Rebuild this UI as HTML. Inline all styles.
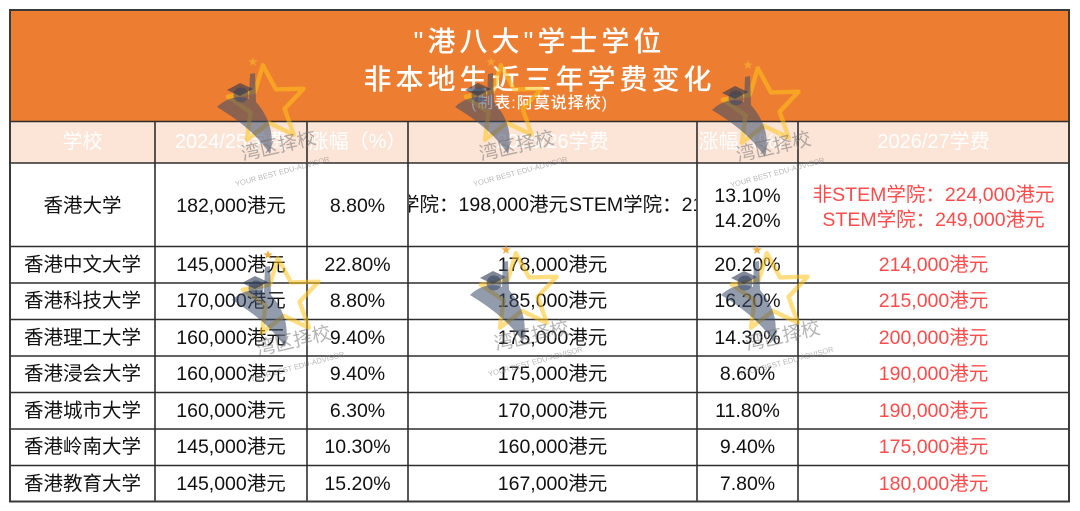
<!DOCTYPE html>
<html><head><meta charset="utf-8">
<style>
html,body{margin:0;padding:0;background:#fff;}
body{width:1080px;height:511px;position:relative;overflow:hidden;font-family:"Liberation Sans","Noto Sans CJK SC",sans-serif;}
.c{position:absolute;display:flex;align-items:center;justify-content:center;white-space:nowrap;font-size:19.5px;color:#111;line-height:24px;}
.h{color:#fff;font-size:20px;}
.r{color:#ff4b4b;}
.t{position:absolute;left:10px;width:1059px;text-align:center;color:#fff;white-space:nowrap;font-family:"Liberation Sans","Noto Sans CJK SC",sans-serif;font-weight:500;}
</style></head><body>
<svg width="1080" height="511" style="position:absolute;left:0;top:0">
<rect x="10" y="10" width="1059" height="111.5" fill="#ED7D31"/>
<rect x="10" y="121.5" width="1059" height="41.5" fill="#FCE4D6"/>
<g stroke="#2e2e2e" stroke-width="1.6" fill="none">
<line x1="10" y1="121.5" x2="1069" y2="121.5"/>
<line x1="10" y1="163" x2="1069" y2="163"/>
<line x1="10" y1="246.5" x2="1069" y2="246.5"/>
<line x1="10" y1="283" x2="1069" y2="283"/>
<line x1="10" y1="319.5" x2="1069" y2="319.5"/>
<line x1="10" y1="356" x2="1069" y2="356"/>
<line x1="10" y1="392.5" x2="1069" y2="392.5"/>
<line x1="10" y1="429" x2="1069" y2="429"/>
<line x1="10" y1="465.5" x2="1069" y2="465.5"/>
<line x1="155" y1="121.5" x2="155" y2="501.5"/>
<line x1="307" y1="121.5" x2="307" y2="501.5"/>
<line x1="408" y1="121.5" x2="408" y2="501.5"/>
<line x1="697" y1="121.5" x2="697" y2="501.5"/>
<line x1="798" y1="121.5" x2="798" y2="501.5"/>
</g>
<rect x="10" y="10" width="1059" height="491.5" fill="none" stroke="#3a3a3a" stroke-width="2"/>
</svg>

<div class="t" style="top:23.5px;height:36px;line-height:36px;font-size:28px;letter-spacing:4px;">"港八大"学士学位</div>
<div class="t" style="top:61.5px;height:36px;line-height:36px;font-size:28px;letter-spacing:4px;">非本地生近三年学费变化</div>
<div class="t" style="top:92.5px;height:22px;line-height:22px;font-size:16px;letter-spacing:1px;">(制表:阿莫说择校)</div>

<!-- column headers -->
<div class="c h" style="left:10px;top:121.5px;width:145px;height:41.5px;">学校</div>
<div class="c h" style="left:155px;top:121.5px;width:152px;height:41.5px;">2024/25学费</div>
<div class="c h" style="left:307px;top:121.5px;width:101px;height:41.5px;">涨幅（%）</div>
<div class="c h" style="left:408px;top:121.5px;width:289px;height:41.5px;">2025/26学费</div>
<div class="c h" style="left:697px;top:121.5px;width:101px;height:41.5px;">涨幅（%）</div>
<div class="c h" style="left:798px;top:121.5px;width:271px;height:41.5px;">2026/27学费</div>

<!-- row 1 -->
<div class="c" style="left:10px;top:163px;width:145px;height:85px;">香港大学</div>
<div class="c" style="left:155px;top:163px;width:152px;height:85px;">182,000港元</div>
<div class="c" style="left:307px;top:163px;width:101px;height:85px;">8.80%</div>
<div style="position:absolute;left:409px;top:164px;width:287px;height:82px;overflow:hidden;font-size:19.5px;color:#111;white-space:nowrap;">
<span style="position:absolute;right:128px;top:29px;line-height:24px;">非STEM学院：198,000港元</span>
<span style="position:absolute;left:160px;top:29px;line-height:24px;">STEM学院：218,000港元</span>
</div>
<div class="c" style="left:697px;top:184px;width:101px;height:50px;line-height:25px;flex-direction:column;"><div>13.10%</div><div>14.20%</div></div>
<div class="c r" style="left:798px;top:183px;width:271px;height:50px;line-height:25px;flex-direction:column;"><div>非STEM学院：224,000港元</div><div>STEM学院：249,000港元</div></div>

<!-- row 2 -->
<div class="c" style="left:10px;top:246.5px;width:145px;height:36.5px;">香港中文大学</div>
<div class="c" style="left:155px;top:246.5px;width:152px;height:36.5px;">145,000港元</div>
<div class="c" style="left:307px;top:246.5px;width:101px;height:36.5px;">22.80%</div>
<div class="c" style="left:408px;top:246.5px;width:289px;height:36.5px;">178,000港元</div>
<div class="c" style="left:697px;top:246.5px;width:101px;height:36.5px;">20.20%</div>
<div class="c r" style="left:798px;top:246.5px;width:271px;height:36.5px;">214,000港元</div>

<!-- row 3 -->
<div class="c" style="left:10px;top:283px;width:145px;height:36.5px;">香港科技大学</div>
<div class="c" style="left:155px;top:283px;width:152px;height:36.5px;">170,000港元</div>
<div class="c" style="left:307px;top:283px;width:101px;height:36.5px;">8.80%</div>
<div class="c" style="left:408px;top:283px;width:289px;height:36.5px;">185,000港元</div>
<div class="c" style="left:697px;top:283px;width:101px;height:36.5px;">16.20%</div>
<div class="c r" style="left:798px;top:283px;width:271px;height:36.5px;">215,000港元</div>

<!-- row 4 -->
<div class="c" style="left:10px;top:319.5px;width:145px;height:36.5px;">香港理工大学</div>
<div class="c" style="left:155px;top:319.5px;width:152px;height:36.5px;">160,000港元</div>
<div class="c" style="left:307px;top:319.5px;width:101px;height:36.5px;">9.40%</div>
<div class="c" style="left:408px;top:319.5px;width:289px;height:36.5px;">175,000港元</div>
<div class="c" style="left:697px;top:319.5px;width:101px;height:36.5px;">14.30%</div>
<div class="c r" style="left:798px;top:319.5px;width:271px;height:36.5px;">200,000港元</div>

<!-- row 5 -->
<div class="c" style="left:10px;top:356px;width:145px;height:36.5px;">香港浸会大学</div>
<div class="c" style="left:155px;top:356px;width:152px;height:36.5px;">160,000港元</div>
<div class="c" style="left:307px;top:356px;width:101px;height:36.5px;">9.40%</div>
<div class="c" style="left:408px;top:356px;width:289px;height:36.5px;">175,000港元</div>
<div class="c" style="left:697px;top:356px;width:101px;height:36.5px;">8.60%</div>
<div class="c r" style="left:798px;top:356px;width:271px;height:36.5px;">190,000港元</div>

<!-- row 6 -->
<div class="c" style="left:10px;top:392.5px;width:145px;height:36.5px;">香港城市大学</div>
<div class="c" style="left:155px;top:392.5px;width:152px;height:36.5px;">160,000港元</div>
<div class="c" style="left:307px;top:392.5px;width:101px;height:36.5px;">6.30%</div>
<div class="c" style="left:408px;top:392.5px;width:289px;height:36.5px;">170,000港元</div>
<div class="c" style="left:697px;top:392.5px;width:101px;height:36.5px;">11.80%</div>
<div class="c r" style="left:798px;top:392.5px;width:271px;height:36.5px;">190,000港元</div>

<!-- row 7 -->
<div class="c" style="left:10px;top:429px;width:145px;height:36.5px;">香港岭南大学</div>
<div class="c" style="left:155px;top:429px;width:152px;height:36.5px;">145,000港元</div>
<div class="c" style="left:307px;top:429px;width:101px;height:36.5px;">10.30%</div>
<div class="c" style="left:408px;top:429px;width:289px;height:36.5px;">160,000港元</div>
<div class="c" style="left:697px;top:429px;width:101px;height:36.5px;">9.40%</div>
<div class="c r" style="left:798px;top:429px;width:271px;height:36.5px;">175,000港元</div>

<!-- row 8 -->
<div class="c" style="left:10px;top:465.5px;width:145px;height:36px;">香港教育大学</div>
<div class="c" style="left:155px;top:465.5px;width:152px;height:36px;">145,000港元</div>
<div class="c" style="left:307px;top:465.5px;width:101px;height:36px;">15.20%</div>
<div class="c" style="left:408px;top:465.5px;width:289px;height:36px;">167,000港元</div>
<div class="c" style="left:697px;top:465.5px;width:101px;height:36px;">7.80%</div>
<div class="c r" style="left:798px;top:465.5px;width:271px;height:36px;">180,000港元</div>

<!-- watermarks -->
<svg width="1080" height="511" style="position:absolute;left:0;top:0;pointer-events:none">
<g transform="translate(253,62)">
<polygon points="0,-1 0.265,-0.364 0.951,-0.309 0.428,0.139 0.588,0.809 0,0.45 -0.588,0.809 -0.428,0.139 -0.951,-0.309 -0.265,-0.364" transform="translate(14,43) rotate(-6) scale(40)" fill="none" stroke="#ffc21a" stroke-width="0.11" stroke-linejoin="round" opacity="0.55"/>
<polygon points="0,-5 1.18,-1.62 4.76,-1.55 1.9,0.62 2.94,4.05 0,2 -2.94,4.05 -1.9,0.62 -4.76,-1.55 -1.18,-1.62" fill="#f2a531" opacity="0.9"/>
<path d="M -36 45 C -26 35 -12 33 -4 37 L -3 12 L 2 11 L 3 40 C 16 55 22 72 17 92 C 6 76 -8 62 -36 45 Z" fill="#3a4a6a" opacity="0.55"/>
<circle cx="-12" cy="33" r="7.5" fill="#3a4a6a" opacity="0.55"/>
<polygon points="-26,28 -13,21 0,27 -13,34" fill="#2a3550" opacity="0.6"/>
<text transform="translate(27,90) rotate(-13)" text-anchor="middle" font-size="19" font-family="Liberation Sans, Noto Sans CJK SC, sans-serif" fill="#777" opacity="0.55">湾区择校</text>
<text transform="translate(30,112) rotate(-15)" text-anchor="middle" font-size="7.5" font-family="Liberation Sans, sans-serif" fill="#888" opacity="0.6">YOUR BEST EDU-ADVISOR</text>
</g>
<g transform="translate(491,62)">
<polygon points="0,-1 0.265,-0.364 0.951,-0.309 0.428,0.139 0.588,0.809 0,0.45 -0.588,0.809 -0.428,0.139 -0.951,-0.309 -0.265,-0.364" transform="translate(14,43) rotate(-6) scale(40)" fill="none" stroke="#ffc21a" stroke-width="0.11" stroke-linejoin="round" opacity="0.55"/>
<polygon points="0,-5 1.18,-1.62 4.76,-1.55 1.9,0.62 2.94,4.05 0,2 -2.94,4.05 -1.9,0.62 -4.76,-1.55 -1.18,-1.62" fill="#f2a531" opacity="0.9"/>
<path d="M -36 45 C -26 35 -12 33 -4 37 L -3 12 L 2 11 L 3 40 C 16 55 22 72 17 92 C 6 76 -8 62 -36 45 Z" fill="#3a4a6a" opacity="0.55"/>
<circle cx="-12" cy="33" r="7.5" fill="#3a4a6a" opacity="0.55"/>
<polygon points="-26,28 -13,21 0,27 -13,34" fill="#2a3550" opacity="0.6"/>
<text transform="translate(27,90) rotate(-13)" text-anchor="middle" font-size="19" font-family="Liberation Sans, Noto Sans CJK SC, sans-serif" fill="#777" opacity="0.55">湾区择校</text>
<text transform="translate(30,112) rotate(-15)" text-anchor="middle" font-size="7.5" font-family="Liberation Sans, sans-serif" fill="#888" opacity="0.6">YOUR BEST EDU-ADVISOR</text>
</g>
<g transform="translate(748,65)">
<polygon points="0,-1 0.265,-0.364 0.951,-0.309 0.428,0.139 0.588,0.809 0,0.45 -0.588,0.809 -0.428,0.139 -0.951,-0.309 -0.265,-0.364" transform="translate(14,43) rotate(-6) scale(40)" fill="none" stroke="#ffc21a" stroke-width="0.11" stroke-linejoin="round" opacity="0.55"/>
<polygon points="0,-5 1.18,-1.62 4.76,-1.55 1.9,0.62 2.94,4.05 0,2 -2.94,4.05 -1.9,0.62 -4.76,-1.55 -1.18,-1.62" fill="#f2a531" opacity="0.9"/>
<path d="M -36 45 C -26 35 -12 33 -4 37 L -3 12 L 2 11 L 3 40 C 16 55 22 72 17 92 C 6 76 -8 62 -36 45 Z" fill="#3a4a6a" opacity="0.55"/>
<circle cx="-12" cy="33" r="7.5" fill="#3a4a6a" opacity="0.55"/>
<polygon points="-26,28 -13,21 0,27 -13,34" fill="#2a3550" opacity="0.6"/>
<text transform="translate(27,88) rotate(-13)" text-anchor="middle" font-size="19" font-family="Liberation Sans, Noto Sans CJK SC, sans-serif" fill="#777" opacity="0.55">湾区择校</text>
<text transform="translate(30,110) rotate(-15)" text-anchor="middle" font-size="7.5" font-family="Liberation Sans, sans-serif" fill="#888" opacity="0.6">YOUR BEST EDU-ADVISOR</text>
</g>
<g transform="translate(268,255)">
<polygon points="0,-1 0.265,-0.364 0.951,-0.309 0.428,0.139 0.588,0.809 0,0.45 -0.588,0.809 -0.428,0.139 -0.951,-0.309 -0.265,-0.364" transform="translate(14,43) rotate(-6) scale(40)" fill="none" stroke="#ffc21a" stroke-width="0.11" stroke-linejoin="round" opacity="0.55"/>
<polygon points="0,-5 1.18,-1.62 4.76,-1.55 1.9,0.62 2.94,4.05 0,2 -2.94,4.05 -1.9,0.62 -4.76,-1.55 -1.18,-1.62" fill="#f2a531" opacity="0.9"/>
<path d="M -36 45 C -26 35 -12 33 -4 37 L -3 12 L 2 11 L 3 40 C 16 55 22 72 17 92 C 6 76 -8 62 -36 45 Z" fill="#3a4a6a" opacity="0.55"/>
<circle cx="-12" cy="33" r="7.5" fill="#3a4a6a" opacity="0.55"/>
<polygon points="-26,28 -13,21 0,27 -13,34" fill="#2a3550" opacity="0.6"/>
<text transform="translate(27,92) rotate(-13)" text-anchor="middle" font-size="19" font-family="Liberation Sans, Noto Sans CJK SC, sans-serif" fill="#777" opacity="0.55">湾区择校</text>
<text transform="translate(30,114) rotate(-15)" text-anchor="middle" font-size="7.5" font-family="Liberation Sans, sans-serif" fill="#888" opacity="0.6">YOUR BEST EDU-ADVISOR</text>
</g>
<g transform="translate(506,250)">
<polygon points="0,-1 0.265,-0.364 0.951,-0.309 0.428,0.139 0.588,0.809 0,0.45 -0.588,0.809 -0.428,0.139 -0.951,-0.309 -0.265,-0.364" transform="translate(14,43) rotate(-6) scale(40)" fill="none" stroke="#ffc21a" stroke-width="0.11" stroke-linejoin="round" opacity="0.55"/>
<polygon points="0,-5 1.18,-1.62 4.76,-1.55 1.9,0.62 2.94,4.05 0,2 -2.94,4.05 -1.9,0.62 -4.76,-1.55 -1.18,-1.62" fill="#f2a531" opacity="0.9"/>
<path d="M -36 45 C -26 35 -12 33 -4 37 L -3 12 L 2 11 L 3 40 C 16 55 22 72 17 92 C 6 76 -8 62 -36 45 Z" fill="#3a4a6a" opacity="0.55"/>
<circle cx="-12" cy="33" r="7.5" fill="#3a4a6a" opacity="0.55"/>
<polygon points="-26,28 -13,21 0,27 -13,34" fill="#2a3550" opacity="0.6"/>
<text transform="translate(27,92) rotate(-13)" text-anchor="middle" font-size="19" font-family="Liberation Sans, Noto Sans CJK SC, sans-serif" fill="#777" opacity="0.55">湾区择校</text>
<text transform="translate(30,114) rotate(-15)" text-anchor="middle" font-size="7.5" font-family="Liberation Sans, sans-serif" fill="#888" opacity="0.6">YOUR BEST EDU-ADVISOR</text>
</g>
<g transform="translate(757,250)">
<polygon points="0,-1 0.265,-0.364 0.951,-0.309 0.428,0.139 0.588,0.809 0,0.45 -0.588,0.809 -0.428,0.139 -0.951,-0.309 -0.265,-0.364" transform="translate(14,43) rotate(-6) scale(40)" fill="none" stroke="#ffc21a" stroke-width="0.11" stroke-linejoin="round" opacity="0.55"/>
<polygon points="0,-5 1.18,-1.62 4.76,-1.55 1.9,0.62 2.94,4.05 0,2 -2.94,4.05 -1.9,0.62 -4.76,-1.55 -1.18,-1.62" fill="#f2a531" opacity="0.9"/>
<path d="M -36 45 C -26 35 -12 33 -4 37 L -3 12 L 2 11 L 3 40 C 16 55 22 72 17 92 C 6 76 -8 62 -36 45 Z" fill="#3a4a6a" opacity="0.55"/>
<circle cx="-12" cy="33" r="7.5" fill="#3a4a6a" opacity="0.55"/>
<polygon points="-26,28 -13,21 0,27 -13,34" fill="#2a3550" opacity="0.6"/>
<text transform="translate(27,92) rotate(-13)" text-anchor="middle" font-size="19" font-family="Liberation Sans, Noto Sans CJK SC, sans-serif" fill="#777" opacity="0.55">湾区择校</text>
<text transform="translate(30,114) rotate(-15)" text-anchor="middle" font-size="7.5" font-family="Liberation Sans, sans-serif" fill="#888" opacity="0.6">YOUR BEST EDU-ADVISOR</text>
</g>
</svg>
</body></html>
